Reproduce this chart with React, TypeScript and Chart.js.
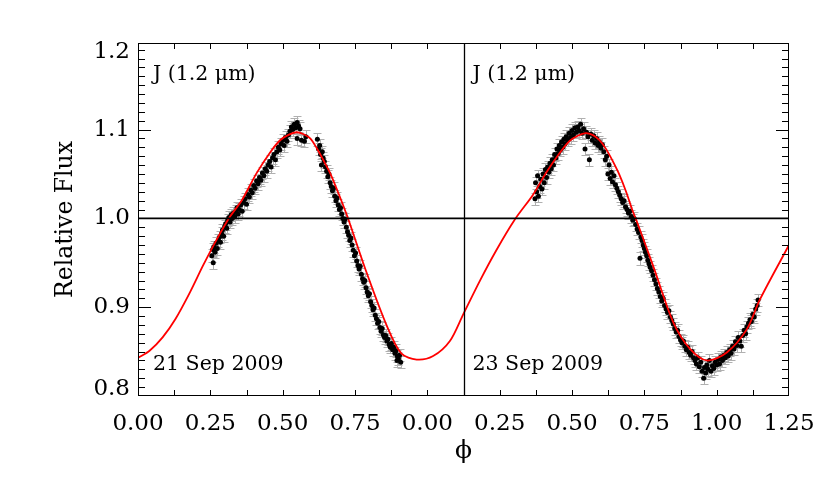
import React, { useEffect, useRef } from "react";
import { Chart, registerables } from "chart.js";

Chart.register(...registerables);

const FONT = "'DejaVu Serif', 'Liberation Serif', serif";

// Continuous x-axis: night 1 occupies 0..1.125, night 2 occupies 1.125..2.25 (phase + 1)
const X_MIN = 0;
const X_MAX = 2.25;
const Y_MIN = 0.8;
const Y_MAX = 1.1975;
const DIVIDER_X = 1.125;
const NIGHT2_OFFSET = 1.0;
const ERR = 0.007;

const xTickValues = [0, 0.25, 0.5, 0.75, 1.0, 1.25, 1.5, 1.75, 2.0, 2.25];
const xTickLabels = ["0.00", "0.25", "0.50", "0.75", "0.00", "0.25", "0.50", "0.75", "1.00", "1.25"];
const yTickValues = [0.8, 0.9, 1.0, 1.1, 1.2];
const yTickLabels = ["0.8", "0.9", "1.0", "1.1", "1.2"];

// Model light curve (continuous x coordinate)
const modelX = [
  0.0, 0.04, 0.085, 0.13, 0.18, 0.225, 0.27, 0.316, 0.36, 0.41, 0.456, 0.491, 0.52, 0.548,
  0.571, 0.595, 0.618, 0.64, 0.664, 0.687, 0.71, 0.727, 0.79, 0.86, 0.91, 0.963, 1.02, 1.078,
  1.124, 1.182, 1.24, 1.303, 1.366, 1.41, 1.456, 1.491, 1.52, 1.547, 1.571, 1.595, 1.618,
  1.64, 1.664, 1.687, 1.71, 1.727, 1.781, 1.85, 1.908, 1.966, 2.035, 2.104, 2.15, 2.25,
];
const modelFlux = [
  0.843, 0.851, 0.866, 0.887, 0.917, 0.947, 0.975, 1.001, 1.021, 1.051, 1.074, 1.088, 1.094, 1.097,
  1.095, 1.09, 1.079, 1.066, 1.051, 1.033, 1.014, 0.999, 0.939, 0.879, 0.848, 0.841, 0.845, 0.862,
  0.892, 0.93, 0.965, 0.999, 1.027, 1.051, 1.073, 1.087, 1.093, 1.096, 1.094, 1.088, 1.078,
  1.065, 1.049, 1.03, 1.008, 0.994, 0.946, 0.883, 0.853, 0.84, 0.849, 0.875, 0.909, 0.97,
];

// 21 Sep 2009 photometry
const sep21Phase = [
  0.255, 0.258, 0.26, 0.262, 0.266, 0.27, 0.274, 0.278, 0.282, 0.285, 0.289, 0.292, 0.296,
  0.3, 0.303, 0.307, 0.31, 0.314, 0.318, 0.322, 0.326, 0.33, 0.334, 0.338, 0.342, 0.346,
  0.35, 0.355, 0.36, 0.365, 0.37, 0.375, 0.38, 0.385, 0.39, 0.395, 0.4, 0.405, 0.41, 0.415,
  0.42, 0.425, 0.43, 0.435, 0.44, 0.445, 0.45, 0.455, 0.46, 0.465, 0.47, 0.475, 0.48, 0.485,
  0.49, 0.495, 0.5, 0.505, 0.51, 0.515, 0.52, 0.525, 0.53, 0.535, 0.54, 0.545, 0.55, 0.555,
  0.56, 0.55, 0.565, 0.575, 0.58,
  0.62, 0.624, 0.628, 0.631, 0.634, 0.637, 0.64, 0.644, 0.648, 0.652, 0.656, 0.66, 0.664,
  0.668, 0.672, 0.676, 0.68, 0.684, 0.688, 0.692, 0.696, 0.7, 0.704, 0.708, 0.712, 0.716,
  0.72, 0.724, 0.728, 0.732, 0.736, 0.74, 0.744, 0.748, 0.752, 0.756, 0.76, 0.764, 0.768,
  0.772, 0.776, 0.78, 0.784, 0.788, 0.792, 0.796, 0.8, 0.804, 0.808, 0.812, 0.816, 0.82,
  0.824, 0.828, 0.832, 0.836, 0.84, 0.844, 0.848, 0.852, 0.856, 0.86, 0.864, 0.868, 0.872,
  0.876, 0.88, 0.884, 0.888, 0.892, 0.896, 0.9, 0.904, 0.908, 0.895,
];
const sep21Flux = [
  0.958, 0.965, 0.95, 0.968, 0.962, 0.972, 0.966, 0.975, 0.979, 0.973, 0.983, 0.987, 0.98,
  0.991, 0.994, 0.989, 0.998, 1.001, 0.996, 1.004, 1.0, 1.006, 1.002, 1.008, 1.012, 1.005,
  1.01, 1.015, 1.008, 1.018, 1.022, 1.016, 1.027, 1.024, 1.032, 1.029, 1.037, 1.034, 1.042, 1.039,
  1.046, 1.043, 1.051, 1.048, 1.056, 1.053, 1.06, 1.064, 1.058, 1.068, 1.072, 1.066, 1.075, 1.08,
  1.077, 1.084, 1.088, 1.082, 1.091, 1.087, 1.094, 1.098, 1.103, 1.1, 1.106, 1.102, 1.108, 1.104,
  1.101, 1.09, 1.088, 1.087, 1.092,
  1.089, 1.078, 1.082, 1.072, 1.06, 1.075, 1.068, 1.064, 1.058, 1.053, 1.047, 1.05, 1.04,
  1.036, 1.031, 1.034, 1.025, 1.02, 1.023, 1.015, 1.01, 1.012, 1.005, 1.0, 0.996, 0.999,
  0.99, 0.985, 0.981, 0.975, 0.978, 0.97, 0.964, 0.958, 0.961, 0.952, 0.947, 0.943, 0.946,
  0.937, 0.932, 0.928, 0.93, 0.922, 0.917, 0.913, 0.915, 0.906, 0.902, 0.897, 0.899, 0.891,
  0.887, 0.882, 0.884, 0.877, 0.873, 0.876, 0.869, 0.866, 0.868, 0.862, 0.864, 0.858, 0.855,
  0.859, 0.852, 0.855, 0.848, 0.851, 0.845, 0.842, 0.846, 0.838, 0.84,
];

// 23 Sep 2009 photometry (phase)
const sep23Phase = [
  0.372, 0.374, 0.378, 0.381, 0.384, 0.388, 0.392, 0.396, 0.4, 0.404, 0.408, 0.412, 0.416,
  0.42, 0.424, 0.428, 0.432, 0.436, 0.44, 0.444, 0.448, 0.452, 0.456, 0.46, 0.464, 0.468,
  0.472, 0.476, 0.48, 0.485, 0.49, 0.495, 0.5, 0.505, 0.51, 0.515, 0.52, 0.525, 0.53, 0.535,
  0.54, 0.545, 0.55, 0.555, 0.56, 0.565, 0.57, 0.575, 0.58, 0.585, 0.59, 0.595, 0.6, 0.605,
  0.61, 0.615, 0.62, 0.624, 0.628, 0.632, 0.636, 0.64, 0.645, 0.65, 0.655, 0.66, 0.665, 0.67,
  0.675, 0.68, 0.685, 0.69, 0.695, 0.7, 0.705, 0.71, 0.715, 0.72, 0.725, 0.73, 0.735, 0.738,
  0.742, 0.746, 0.75, 0.754, 0.758, 0.762, 0.766, 0.77, 0.775, 0.78, 0.785, 0.79, 0.795, 0.8,
  0.805, 0.81, 0.815, 0.82, 0.825, 0.83, 0.835, 0.84, 0.845, 0.85, 0.855, 0.86, 0.865, 0.87,
  0.875, 0.88, 0.885, 0.89, 0.895, 0.9, 0.905, 0.91, 0.915, 0.92, 0.925, 0.93, 0.935, 0.94,
  0.945, 0.95, 0.955, 0.958, 0.962, 0.966, 0.97, 0.975, 0.98, 0.985, 0.99, 0.995, 1.0, 1.005,
  1.01, 1.015, 1.02, 1.025, 1.03, 1.035, 1.04, 1.045, 1.05, 1.055, 1.06, 1.065, 1.07, 1.075,
  1.08, 1.085, 1.09, 1.095, 1.1, 1.105, 1.11, 1.115, 1.12, 1.125, 1.13, 1.135, 1.14, 1.143,
];
const sep23Flux = [
  1.022, 1.04, 1.03, 1.048, 1.025, 1.036, 1.044, 1.033, 1.05, 1.04, 1.055, 1.046, 1.058,
  1.052, 1.062, 1.056, 1.066, 1.06, 1.072, 1.068, 1.078, 1.073, 1.082, 1.077, 1.086, 1.08,
  1.089, 1.084, 1.092, 1.088, 1.096, 1.091, 1.099, 1.094, 1.102, 1.097, 1.103, 1.099, 1.106, 1.096,
  1.101, 1.078, 1.097, 1.092, 1.066, 1.095, 1.088, 1.093, 1.085, 1.09, 1.082, 1.086, 1.079, 1.083,
  1.075, 1.066, 1.07, 1.05, 1.06, 1.045, 1.052, 1.041, 1.048, 1.038, 1.034, 1.03, 1.026, 1.022,
  1.018, 1.02, 1.013, 1.01, 1.006, 1.008, 1.002, 0.998, 1.0, 0.993, 0.988, 0.984, 0.955, 0.979,
  0.975, 0.97, 0.966, 0.962, 0.958, 0.953, 0.949, 0.945, 0.941, 0.936, 0.931, 0.926, 0.921, 0.917,
  0.912, 0.907, 0.91, 0.902, 0.898, 0.894, 0.896, 0.889, 0.885, 0.881, 0.876, 0.872, 0.874, 0.867,
  0.863, 0.86, 0.862, 0.856, 0.852, 0.855, 0.849, 0.846, 0.85, 0.843, 0.84, 0.836, 0.843, 0.833,
  0.838, 0.828, 0.82, 0.832, 0.826, 0.835, 0.83, 0.84, 0.828, 0.834, 0.831, 0.838, 0.835, 0.841,
  0.836, 0.844, 0.84, 0.846, 0.843, 0.849, 0.845, 0.852, 0.848, 0.856, 0.853, 0.861, 0.857, 0.866,
  0.862, 0.856, 0.868, 0.874, 0.87, 0.878, 0.882, 0.886, 0.884, 0.892, 0.889, 0.898, 0.902, 0.908,
];

const bandLabel = "J (1.2 \u03bcm)";
const nightLabels = ["21 Sep 2009", "23 Sep 2009"];

const decorations = {
  id: "decorations",
  beforeDatasetsDraw(chart: any) {
    const { ctx, scales } = chart;
    const x = scales.x;
    const y = scales.y;
    ctx.save();
    ctx.strokeStyle = "#b0b0b0";
    ctx.lineWidth = 1;
    ctx.beginPath();
    const nights: [number[], number[], number][] = [
      [sep21Phase, sep21Flux, 0],
      [sep23Phase, sep23Flux, NIGHT2_OFFSET],
    ];
    for (const [ph, fl, off] of nights) {
      ph.forEach((p, i) => {
        const px = Math.round(x.getPixelForValue(p + off)) + 0.5;
        const yt = Math.round(y.getPixelForValue(fl[i] + ERR)) + 0.5;
        const yb = Math.round(y.getPixelForValue(fl[i] - ERR)) + 0.5;
        ctx.moveTo(px, yt);
        ctx.lineTo(px, yb);
        ctx.moveTo(px - 4, yt);
        ctx.lineTo(px + 4, yt);
        ctx.moveTo(px - 4, yb);
        ctx.lineTo(px + 4, yb);
      });
    }
    ctx.stroke();
    ctx.restore();
  },
  afterDatasetsDraw(chart: any) {
    const { ctx, chartArea, scales } = chart;
    const x = scales.x;
    const y = scales.y;
    const { left, right, top, bottom } = chartArea;
    ctx.save();
    ctx.strokeStyle = "#000";
    ctx.lineWidth = 1;
    // frame
    ctx.strokeRect(left + 0.5, top + 0.5, right - left - 1, bottom - top - 1);
    // divider
    const dx = Math.round(x.getPixelForValue(DIVIDER_X)) + 0.5;
    ctx.beginPath();
    ctx.moveTo(dx, top);
    ctx.lineTo(dx, bottom);
    ctx.lineWidth = 1.3;
    ctx.stroke();
    ctx.lineWidth = 1;
    // x ticks (every 0.125), top & bottom, inward
    ctx.beginPath();
    for (let k = 1; k < 18; k++) {
      const v = k * 0.125;
      const px = Math.round(x.getPixelForValue(v)) + 0.5;
      ctx.moveTo(px, bottom);
      ctx.lineTo(px, bottom - 6);
      ctx.moveTo(px, top);
      ctx.lineTo(px, top + 6);
    }
    // y ticks: minor 0.01, major 0.1
    for (let k = 81; k <= 119; k++) {
      const v = k / 100;
      const py = Math.round(y.getPixelForValue(v)) + 0.5;
      const len = k % 10 === 0 ? 13 : 7;
      ctx.moveTo(left, py);
      ctx.lineTo(left + len, py);
      ctx.moveTo(right, py);
      ctx.lineTo(right - len, py);
    }
    ctx.stroke();

    // y tick labels
    ctx.fillStyle = "#000";
    ctx.font = `23px ${FONT}`;
    ctx.textAlign = "right";
    ctx.textBaseline = "middle";
    yTickValues.forEach((v, i) => {
      let py = y.getPixelForValue(v);
      py = Math.min(Math.max(py, top + 9), bottom - 7);
      ctx.fillText(yTickLabels[i], left - 8, py);
    });

    // annotations
    ctx.font = `20.5px ${FONT}`;
    ctx.textAlign = "left";
    ctx.textBaseline = "alphabetic";
    ctx.fillText(bandLabel, left + 15, top + 37);
    ctx.fillText(bandLabel, dx + 8, top + 37);
    ctx.fillText(nightLabels[0], left + 15, bottom - 26);
    ctx.fillText(nightLabels[1], dx + 8, bottom - 26);
    ctx.restore();
  },
};

export default function App() {
  const ref = useRef<HTMLCanvasElement | null>(null);
  useEffect(() => {
    if (!ref.current) return;
    const chart = new Chart(ref.current, {
      type: "scatter",
      data: {
        datasets: [
          {
            label: "unity",
            data: [
              { x: X_MIN, y: 1 },
              { x: X_MAX, y: 1 },
            ],
            showLine: true,
            borderColor: "#000",
            borderWidth: 1.6,
            pointRadius: 0,
            order: 1,
          },
          {
            label: "model",
            data: modelX.map((v, i) => ({ x: v, y: modelFlux[i] })),
            showLine: true,
            borderColor: "#ff0000",
            borderWidth: 1.8,
            pointRadius: 0,
            tension: 0.3,
            order: 2,
          },
          {
            label: nightLabels[0],
            data: sep21Phase.map((p, i) => ({ x: p, y: sep21Flux[i] })),
            pointRadius: 2.5,
            pointBackgroundColor: "#000",
            pointBorderColor: "#000",
            pointBorderWidth: 0,
            order: 3,
          },
          {
            label: nightLabels[1],
            data: sep23Phase.map((p, i) => ({ x: p + NIGHT2_OFFSET, y: sep23Flux[i] })),
            pointRadius: 2.5,
            pointBackgroundColor: "#000",
            pointBorderColor: "#000",
            pointBorderWidth: 0,
            order: 3,
          },
        ],
      } as any,
      options: {
        responsive: false,
        animation: false,
        layout: { padding: { top: 43, right: 41, left: 0, bottom: 0 } },
        plugins: { legend: { display: false }, tooltip: { enabled: false } },
        scales: {
          x: {
            type: "linear",
            min: X_MIN,
            max: X_MAX,
            position: "bottom",
            afterFit: (s: any) => {
              s.height = 88;
            },
            afterBuildTicks: (s: any) => {
              s.ticks = xTickValues.map((v) => ({ value: v }));
            },
            grid: { display: false },
            border: { display: false },
            ticks: {
              autoSkip: false,
              maxRotation: 0,
              minRotation: 0,
              padding: 6,
              color: "#000",
              font: { family: FONT, size: 23 },
              callback: (_v: any, i: number) => xTickLabels[i],
            },
            title: {
              display: true,
              text: "\u03d5",
              color: "#000",
              font: { family: FONT, size: 25 },
              padding: { top: 0, bottom: 18 },
            },
          },
          y: {
            type: "linear",
            min: Y_MIN,
            max: Y_MAX,
            afterFit: (s: any) => {
              s.width = 138;
            },
            grid: { display: false },
            border: { display: false },
            ticks: { display: false },
            title: {
              display: true,
              text: "Relative Flux",
              color: "#000",
              font: { family: FONT, size: 23.5 },
              padding: { top: 52, bottom: 0 },
            },
          },
        },
      } as any,
      plugins: [decorations],
    });
    return () => chart.destroy();
  }, []);
  return (
    <div style={{ position: "fixed", left: 0, top: 0, width: 830, height: 484, background: "#fff" }}>
      <canvas ref={ref} width={830} height={484} />
    </div>
  );
}
